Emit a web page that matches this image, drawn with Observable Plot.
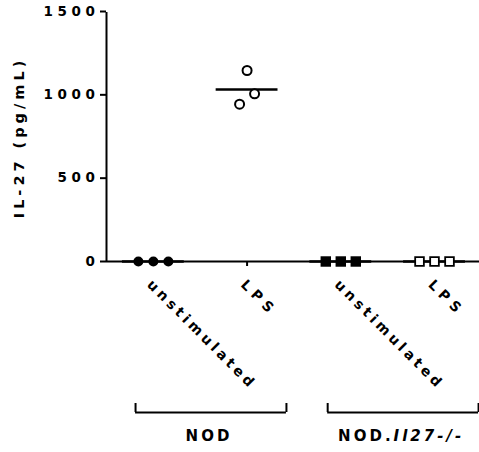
<!DOCTYPE html>
<html><head><meta charset="utf-8">
<script src="https://cdn.jsdelivr.net/npm/d3@7"></script>
<script src="https://cdn.jsdelivr.net/npm/@observablehq/plot@0.6"></script>
<style>body{margin:0;background:#fff}</style>
</head><body><div id="chart"></div>
<script>
// ---- data ----
const categories = ["unstimulated", "LPS", "unstimulated", "LPS"];
const groupNames = ["NOD", "NOD.Il27-/-"];
const nodUnstim = [0, 0, 0];
const nodLPS = [944, 1146, 1006];
const koUnstim = [0, 0, 0];
const koLPS = [0, 0, 0];
const yTicks = [0, 500, 1000, 1500];
const yLabel = "IL-27 (pg/mL)";

// ---- build tables ----
const series = [
  {cat: 0, values: nodUnstim, symbol: "circle", filled: true, spread: 0.16},
  {cat: 1, values: nodLPS, symbol: "circle", filled: false, spread: 0.08},
  {cat: 2, values: koUnstim, symbol: "square", filled: true, spread: 0.16},
  {cat: 3, values: koLPS, symbol: "square", filled: false, spread: 0.16}
];
const points = series.flatMap(s => s.values.map((v, i) => ({
  pos: s.cat + (i - 1) * s.spread, v, symbol: s.symbol, filled: s.filled
})));
const means = series.map(s => ({cat: s.cat, mean: d3.mean(s.values)}));
const groups = [
  {name: groupNames[0], x1: 0 - 0.19, x2: 1 + 0.42},
  {name: groupNames[1], x1: 2 - 0.14, x2: 3 + 0.47}
];
const groupEnds = groups.flatMap(g => [g.x1, g.x2]);
const xDomain = [-0.5, 3.48];
const FONT = "'DejaVu Sans', Arial, sans-serif";

const sel = (f) => points.filter(f);

const chart = Plot.plot({
  width: 479, height: 452,
  marginLeft: 106, marginRight: 0, marginTop: 11, marginBottom: 191,
  style: {fontFamily: FONT, fontSize: "13px", fontWeight: "bold", color: "black", background: "white"},
  x: {domain: xDomain, axis: null},
  y: {domain: [0, 1500], axis: null},
  marks: [
    // y axis
    Plot.axisY({ticks: yTicks, tickSize: 6, tickPadding: 1, strokeWidth: 2, tickFormat: d => String(d),
      label: null, fontSize: 13.5, fontWeight: "bold"}),
    Plot.ruleX([xDomain[0]], {y1: 0, y2: 1500, strokeWidth: 2, insetBottom: -1}),
    // x axis line + ticks
    Plot.ruleY([0], {strokeWidth: 2}),
    Plot.axisX({ticks: [0, 1, 2, 3], tickSize: 5, strokeWidth: 2, tickFormat: () => "", label: null}),
    // mean lines
    Plot.ruleY(means, {y: "mean", x1: d => d.cat - 0.33, x2: d => d.cat + 0.33, strokeWidth: 2.5}),
    // points
    Plot.dot(sel(d => d.symbol === "circle" && d.filled), {x: "pos", y: "v", r: 5, symbol: "circle", fill: "black"}),
    Plot.dot(sel(d => d.symbol === "circle" && !d.filled), {x: "pos", y: "v", r: 4.5, symbol: "circle", fill: "white", stroke: "black", strokeWidth: 2}),
    Plot.dot(sel(d => d.symbol === "square" && d.filled), {x: "pos", y: "v", r: 5.9, symbol: "square", fill: "black"}),
    Plot.dot(sel(d => d.symbol === "square" && !d.filled), {x: "pos", y: "v", r: 4.9, symbol: "square", fill: "white", stroke: "black", strokeWidth: 1.8}),
    // y label
    Plot.text([yLabel], {text: d => d, frameAnchor: "left", textAnchor: "middle", dx: -87, dy: 1, rotate: -90,
      fontSize: 14.5, fontWeight: "bold"}),
    // rotated category labels
    Plot.text(categories, {x: (d, i) => i, text: d => d, frameAnchor: "bottom", rotate: 45, textAnchor: "start",
      lineAnchor: "bottom", dx: -7, dy: 24, fontSize: 14, fontWeight: "bold"}),
    // brackets
    Plot.ruleY(groups, {x1: "x1", x2: "x2", y: () => 0, dy: 151, strokeWidth: 2}),
    Plot.ruleX(groupEnds, {x: d => d, insetTop: 392, insetBottom: -151, strokeWidth: 2}),
    // group labels
    Plot.text(groups, {x: d => (d.x1 + d.x2) / 2, text: "name", frameAnchor: "bottom", dy: 179, dx: -2,
      fontSize: 15, fontWeight: "bold"})
  ]
});

const svg = d3.select(chart);
const tickStr = yTicks.map(String);
svg.selectAll("text").each(function() {
  const t = d3.select(this);
  const s = t.text();
  if (tickStr.includes(s)) t.attr("letter-spacing", 4.6);
  else if (s === yLabel) t.attr("letter-spacing", 4);
  else if (categories.includes(s)) t.attr("letter-spacing", s.length > 3 ? 3.6 : 5);
  else if (groupNames.includes(s)) {
    t.attr("letter-spacing", 3);
    const k = s.indexOf(".");
    if (k >= 0) {
      t.text(null);
      t.append("tspan").text(s.slice(0, k + 1));
      t.append("tspan").attr("font-style", "italic").text(s.slice(k + 1));
    }
  }
});
document.getElementById("chart").appendChild(chart);
</script>
</body></html>
